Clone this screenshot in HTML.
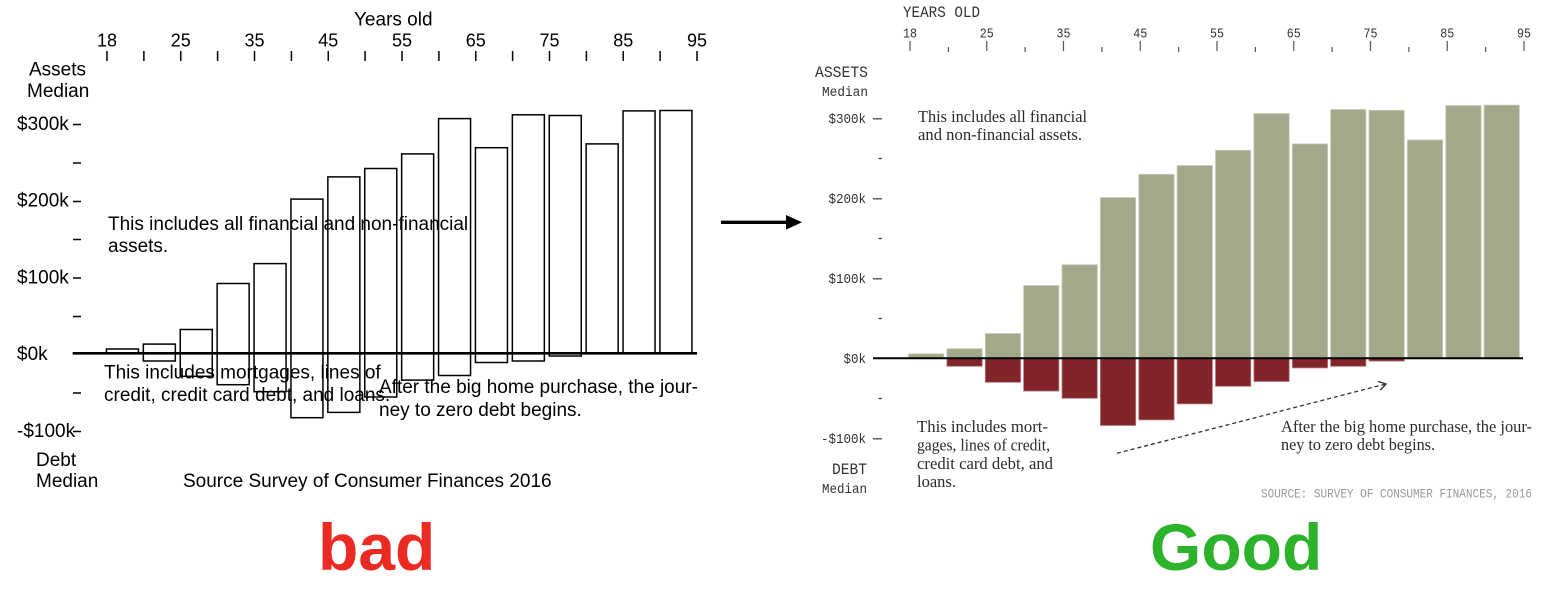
<!DOCTYPE html>
<html><head><meta charset="utf-8">
<style>
html,body{margin:0;padding:0;background:#fff;}
svg{display:block;}
.a{font-family:"Liberation Sans",Arial,sans-serif;font-size:19px;fill:#000;}
.t{font-family:"Liberation Sans",Arial,sans-serif;font-size:18px;fill:#000;}
.m{font-family:"Liberation Mono","DejaVu Sans Mono",monospace;fill:#333;}
.s{font-family:"Liberation Serif","DejaVu Serif",serif;fill:#2b2b2b;font-size:17px;}
.big{font-family:"Liberation Sans",Arial,sans-serif;font-weight:bold;font-size:66px;}
</style></head><body>
<svg width="1548" height="594" viewBox="0 0 1548 594" xmlns="http://www.w3.org/2000/svg">
<rect width="1548" height="594" fill="#fff"/>

<!-- ================= LEFT (bad) CHART ================= -->
<text class="a" x="354" y="25.5">Years old</text>
<g class="t" text-anchor="middle">
<text x="107" y="46.5">18</text>
<text x="180.75" y="46.5">25</text>
<text x="254.5" y="46.5">35</text>
<text x="328.25" y="46.5">45</text>
<text x="402" y="46.5">55</text>
<text x="475.75" y="46.5">65</text>
<text x="549.5" y="46.5">75</text>
<text x="623.25" y="46.5">85</text>
<text x="697" y="46.5">95</text>
</g>
<g stroke="#000" stroke-width="1.5">
<line x1="107" y1="51" x2="107" y2="61"/>
<line x1="143.9" y1="51" x2="143.9" y2="61"/>
<line x1="180.75" y1="51" x2="180.75" y2="61"/>
<line x1="217.6" y1="51" x2="217.6" y2="61"/>
<line x1="254.5" y1="51" x2="254.5" y2="61"/>
<line x1="291.4" y1="51" x2="291.4" y2="61"/>
<line x1="328.25" y1="51" x2="328.25" y2="61"/>
<line x1="365.1" y1="51" x2="365.1" y2="61"/>
<line x1="402" y1="51" x2="402" y2="61"/>
<line x1="438.9" y1="51" x2="438.9" y2="61"/>
<line x1="475.75" y1="51" x2="475.75" y2="61"/>
<line x1="512.6" y1="51" x2="512.6" y2="61"/>
<line x1="549.5" y1="51" x2="549.5" y2="61"/>
<line x1="586.4" y1="51" x2="586.4" y2="61"/>
<line x1="623.25" y1="51" x2="623.25" y2="61"/>
<line x1="660.1" y1="51" x2="660.1" y2="61"/>
<line x1="697" y1="51" x2="697" y2="61"/>
</g>

<text class="a" x="29" y="75.5">Assets</text>
<text class="a" x="27" y="97">Median</text>

<g class="a">
<text x="17" y="130">$300k</text>
<text x="17" y="206.7">$200k</text>
<text x="17" y="283.4">$100k</text>
<text x="17" y="360">$0k</text>
<text x="17" y="436.8">-$100k</text>
</g>
<g stroke="#000" stroke-width="1.5">
<line x1="73" y1="124.5" x2="81" y2="124.5"/>
<line x1="73" y1="163" x2="81" y2="163"/>
<line x1="73" y1="201.5" x2="81" y2="201.5"/>
<line x1="73" y1="239.5" x2="81" y2="239.5"/>
<line x1="73" y1="278" x2="81" y2="278"/>
<line x1="73" y1="316.5" x2="81" y2="316.5"/>
<line x1="73" y1="393" x2="81" y2="393"/>
<line x1="73" y1="431.5" x2="81" y2="431.5"/>
</g>

<!-- left bars: assets -->
<g fill="#fff" stroke="#000" stroke-width="1.5">
<rect x="106.45" y="349.0" width="32" height="4.3"/>
<rect x="143.35" y="344.1" width="32" height="9.2"/>
<rect x="180.25" y="329.5" width="32" height="23.8"/>
<rect x="217.15" y="283.5" width="32" height="69.8"/>
<rect x="254.05" y="263.6" width="32" height="89.7"/>
<rect x="290.95" y="199.1" width="32" height="154.2"/>
<rect x="327.85" y="176.9" width="32" height="176.4"/>
<rect x="364.75" y="168.5" width="32" height="184.8"/>
<rect x="401.65" y="153.9" width="32" height="199.4"/>
<rect x="438.55" y="118.6" width="32" height="234.7"/>
<rect x="475.45" y="147.7" width="32" height="205.6"/>
<rect x="512.35" y="114.8" width="32" height="238.5"/>
<rect x="549.25" y="115.5" width="32" height="237.8"/>
<rect x="586.15" y="143.9" width="32" height="209.4"/>
<rect x="623.05" y="110.9" width="32" height="242.4"/>
<rect x="659.95" y="110.5" width="32" height="242.8"/>
</g>
<!-- left bars: debt -->
<g fill="none" stroke="#000" stroke-width="1.5">
<rect x="143.35" y="353.3" width="32" height="7.7"/>
<rect x="180.25" y="353.3" width="32" height="23.0"/>
<rect x="217.15" y="353.3" width="32" height="31.4"/>
<rect x="254.05" y="353.3" width="32" height="38.4"/>
<rect x="290.95" y="353.3" width="32" height="64.4"/>
<rect x="327.85" y="353.3" width="32" height="59.1"/>
<rect x="364.75" y="353.3" width="32" height="43.7"/>
<rect x="401.65" y="353.3" width="32" height="26.8"/>
<rect x="438.55" y="353.3" width="32" height="22.2"/>
<rect x="475.45" y="353.3" width="32" height="9.2"/>
<rect x="512.35" y="353.3" width="32" height="7.7"/>
<rect x="549.25" y="353.3" width="32" height="2.7"/>
</g>
<line x1="72.7" y1="353.3" x2="697" y2="353.3" stroke="#000" stroke-width="2.6"/>

<text class="a" x="108" y="230">This includes all financial and non-financial</text>
<text class="a" x="108" y="252">assets.</text>
<text class="a" x="104" y="378.5">This includes mortgages, lines of</text>
<text class="a" x="104" y="401">credit, credit card debt, and loans.</text>
<text class="a" x="379" y="393">After the big home purchase, the jour-</text>
<text class="a" x="379" y="416">ney to zero debt begins.</text>

<text class="a" x="36" y="466">Debt</text>
<text class="a" x="36" y="487">Median</text>
<text class="a" x="183" y="487">Source Survey of Consumer Finances 2016</text>

<!-- ================= MIDDLE ARROW ================= -->
<line x1="721" y1="222.3" x2="789" y2="222.3" stroke="#000" stroke-width="3.3"/>
<polygon points="786,215 802,222.3 786,229.6" fill="#000"/>

<!-- ================= RIGHT (good) CHART ================= -->
<text class="m" x="903" y="17" font-size="15.5" textLength="77" lengthAdjust="spacingAndGlyphs">YEARS OLD</text>
<g class="m" font-size="14" text-anchor="middle">
<text x="910" y="37.3" textLength="14" lengthAdjust="spacingAndGlyphs">18</text>
<text x="986.75" y="37.3" textLength="14" lengthAdjust="spacingAndGlyphs">25</text>
<text x="1063.5" y="37.3" textLength="14" lengthAdjust="spacingAndGlyphs">35</text>
<text x="1140.25" y="37.3" textLength="14" lengthAdjust="spacingAndGlyphs">45</text>
<text x="1217" y="37.3" textLength="14" lengthAdjust="spacingAndGlyphs">55</text>
<text x="1293.75" y="37.3" textLength="14" lengthAdjust="spacingAndGlyphs">65</text>
<text x="1370.5" y="37.3" textLength="14" lengthAdjust="spacingAndGlyphs">75</text>
<text x="1447.25" y="37.3" textLength="14" lengthAdjust="spacingAndGlyphs">85</text>
<text x="1524" y="37.3" textLength="14" lengthAdjust="spacingAndGlyphs">95</text>
</g>
<g stroke="#555" stroke-width="1.2">
<line x1="910" y1="41" x2="910" y2="51"/>
<line x1="948.4" y1="47" x2="948.4" y2="52"/>
<line x1="986.75" y1="41" x2="986.75" y2="51"/>
<line x1="1025.1" y1="47" x2="1025.1" y2="52"/>
<line x1="1063.5" y1="41" x2="1063.5" y2="51"/>
<line x1="1101.9" y1="47" x2="1101.9" y2="52"/>
<line x1="1140.25" y1="41" x2="1140.25" y2="51"/>
<line x1="1178.6" y1="47" x2="1178.6" y2="52"/>
<line x1="1217" y1="41" x2="1217" y2="51"/>
<line x1="1255.4" y1="47" x2="1255.4" y2="52"/>
<line x1="1293.75" y1="41" x2="1293.75" y2="51"/>
<line x1="1332.1" y1="47" x2="1332.1" y2="52"/>
<line x1="1370.5" y1="41" x2="1370.5" y2="51"/>
<line x1="1408.9" y1="47" x2="1408.9" y2="52"/>
<line x1="1447.25" y1="41" x2="1447.25" y2="51"/>
<line x1="1485.6" y1="47" x2="1485.6" y2="52"/>
<line x1="1524" y1="41" x2="1524" y2="51"/>
</g>

<text class="m" x="868" y="77" font-size="16" text-anchor="end" textLength="53" lengthAdjust="spacingAndGlyphs">ASSETS</text>
<text class="m" x="868" y="96" font-size="13.5" text-anchor="end" textLength="46" lengthAdjust="spacingAndGlyphs">Median</text>
<text class="m" x="867" y="474" font-size="16" text-anchor="end" textLength="35" lengthAdjust="spacingAndGlyphs">DEBT</text>
<text class="m" x="867" y="493" font-size="13.5" text-anchor="end" textLength="45" lengthAdjust="spacingAndGlyphs">Median</text>

<g class="m" font-size="13.5" text-anchor="end">
<text x="866" y="123" textLength="37.5" lengthAdjust="spacingAndGlyphs">$300k</text>
<text x="866" y="203" textLength="37.5" lengthAdjust="spacingAndGlyphs">$200k</text>
<text x="866" y="283" textLength="37.5" lengthAdjust="spacingAndGlyphs">$100k</text>
<text x="866" y="363" textLength="22.5" lengthAdjust="spacingAndGlyphs">$0k</text>
<text x="866" y="443" textLength="45" lengthAdjust="spacingAndGlyphs">-$100k</text>
</g>
<g stroke="#444" stroke-width="1.3">
<line x1="873" y1="118.8" x2="882" y2="118.8"/>
<line x1="873" y1="198.8" x2="882" y2="198.8"/>
<line x1="873" y1="278.8" x2="882" y2="278.8"/>
<line x1="873" y1="438.8" x2="882" y2="438.8"/>
<line x1="878.5" y1="158.5" x2="882" y2="158.5"/>
<line x1="878.5" y1="238.5" x2="882" y2="238.5"/>
<line x1="878.5" y1="318.5" x2="882" y2="318.5"/>
<line x1="878.5" y1="398.5" x2="882" y2="398.5"/>
</g>

<!-- right bars: assets -->
<g fill="#a2a88a" stroke="#c9ccba" stroke-width="0.8">
<rect x="908.5" y="353.8" width="35.3" height="4.5"/>
<rect x="946.9" y="348.7" width="35.3" height="9.6"/>
<rect x="985.3" y="333.5" width="35.3" height="24.8"/>
<rect x="1023.6" y="285.5" width="35.3" height="72.8"/>
<rect x="1062.0" y="264.7" width="35.3" height="93.6"/>
<rect x="1100.4" y="197.5" width="35.3" height="160.8"/>
<rect x="1138.8" y="174.3" width="35.3" height="184"/>
<rect x="1177.1" y="165.5" width="35.3" height="192.8"/>
<rect x="1215.5" y="150.3" width="35.3" height="208"/>
<rect x="1253.9" y="113.5" width="35.3" height="244.8"/>
<rect x="1292.3" y="143.9" width="35.3" height="214.4"/>
<rect x="1330.6" y="109.5" width="35.3" height="248.8"/>
<rect x="1369.0" y="110.3" width="35.3" height="248"/>
<rect x="1407.4" y="139.9" width="35.3" height="218.4"/>
<rect x="1445.8" y="105.5" width="35.3" height="252.8"/>
<rect x="1484.1" y="105.1" width="35.3" height="253.2"/>
</g>
<!-- right bars: debt -->
<g fill="#82252b" stroke="#b77a7e" stroke-width="0.8">
<rect x="946.9" y="358.3" width="35.3" height="8"/>
<rect x="985.3" y="358.3" width="35.3" height="24"/>
<rect x="1023.6" y="358.3" width="35.3" height="32.8"/>
<rect x="1062.0" y="358.3" width="35.3" height="40"/>
<rect x="1100.4" y="358.3" width="35.3" height="67.2"/>
<rect x="1138.8" y="358.3" width="35.3" height="61.6"/>
<rect x="1177.1" y="358.3" width="35.3" height="45.6"/>
<rect x="1215.5" y="358.3" width="35.3" height="28"/>
<rect x="1253.9" y="358.3" width="35.3" height="23.2"/>
<rect x="1292.3" y="358.3" width="35.3" height="9.6"/>
<rect x="1330.6" y="358.3" width="35.3" height="8"/>
<rect x="1369.0" y="358.3" width="35.3" height="2.8"/>
</g>
<line x1="873" y1="358.3" x2="1523" y2="358.3" stroke="#000" stroke-width="2"/>

<!-- right annotations -->
<text class="s" x="918" y="122" textLength="169" lengthAdjust="spacingAndGlyphs">This includes all financial</text>
<text class="s" x="918" y="140" textLength="164" lengthAdjust="spacingAndGlyphs">and non-financial assets.</text>

<text class="s" x="917" y="432" textLength="131" lengthAdjust="spacingAndGlyphs">This includes mort-</text>
<text class="s" x="917" y="450.5" textLength="133" lengthAdjust="spacingAndGlyphs">gages, lines of credit,</text>
<text class="s" x="917" y="469" textLength="136" lengthAdjust="spacingAndGlyphs">credit card debt, and</text>
<text class="s" x="917" y="487" textLength="39" lengthAdjust="spacingAndGlyphs">loans.</text>

<text class="s" x="1281" y="432" textLength="251" lengthAdjust="spacingAndGlyphs">After the big home purchase, the jour-</text>
<text class="s" x="1281" y="450" textLength="154" lengthAdjust="spacingAndGlyphs">ney to zero debt begins.</text>

<!-- dashed arrow -->
<line x1="1117" y1="453.3" x2="1385" y2="384.2" stroke="#333" stroke-width="1.3" stroke-dasharray="4,3"/>
<g transform="translate(1386,384) rotate(-14.5)">
<path d="M-7,-4.5 L0,0 L-7,4.5" fill="none" stroke="#333" stroke-width="1.4"/>
</g>

<text class="m" x="1261" y="497.5" font-size="13" fill="#999" style="fill:#9a9a9a" textLength="271" lengthAdjust="spacingAndGlyphs">SOURCE: SURVEY OF CONSUMER FINANCES, 2016</text>

<!-- ================= LABELS ================= -->
<text class="big" x="318" y="570" fill="#ec2a24">bad</text>
<text class="big" x="1150" y="570" fill="#2db22b">Good</text>
</svg>
</body></html>
